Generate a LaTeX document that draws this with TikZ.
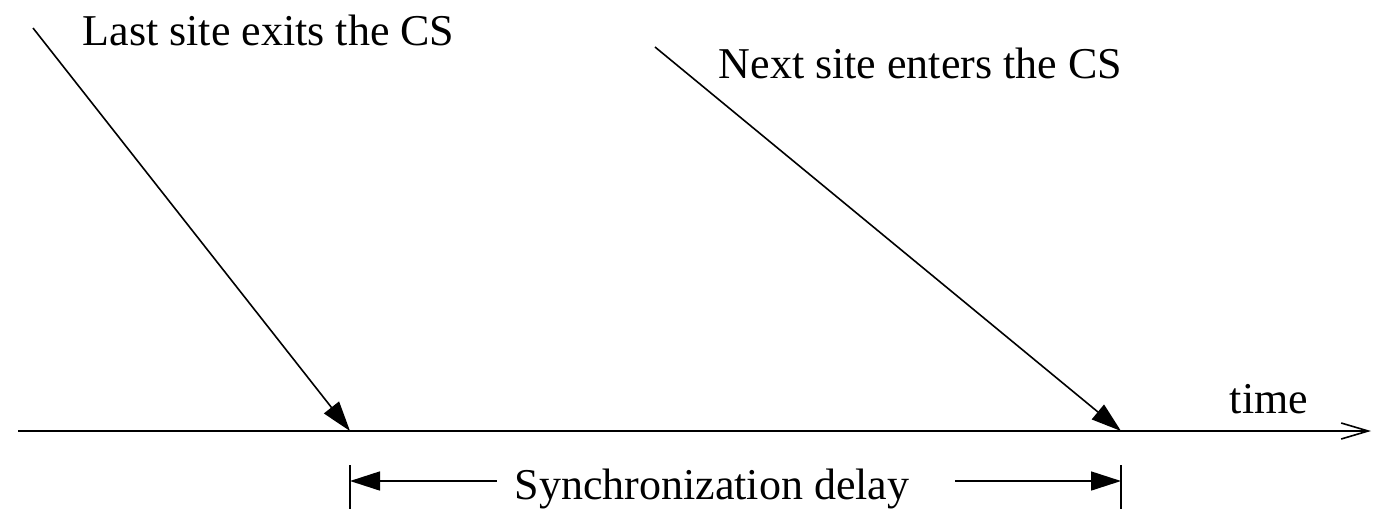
\documentclass[tikz,border=0pt]{standalone}
\usepackage{fontspec}
\setmainfont{Liberation Serif}
\usetikzlibrary{arrows.meta}
\begin{document}
\begin{tikzpicture}[x=1pt,y=-1pt,
  line width=1.6pt,
  fill tip/.style={-{Triangle[length=30pt,width=19pt]}},
  open tip/.style={-{Straight Barb[length=27pt,width=16pt,line width=1.6pt]}},
  lbl/.style={inner sep=0pt,anchor=base west,font=\fontsize{44}{48}\selectfont}]
\useasboundingbox (0,0) rectangle (1381,509);
% time axis
\coordinate (t0) at (18,431);
\coordinate (t1) at (1371,431);
\draw[open tip] (t0) -- (t1);
\node[lbl] (time) at (1229,413) {time};
% exit and entry events
\coordinate (exitStart) at (33,28);
\coordinate (exitPt) at (350,431);
\coordinate (enterStart) at (655,47);
\coordinate (enterPt) at (1121,431);
\draw[fill tip] (exitStart) -- (exitPt);
\draw[fill tip] (enterStart) -- (enterPt);
\node[lbl] (last) at (82,45) {Last site exits the CS};
\node[lbl] (next) at (718,78) {Next site enters the CS};
% synchronization delay span
\coordinate (tickA1) at (350,465);
\coordinate (tickA2) at (350,509);
\coordinate (tickB1) at (1121,465);
\coordinate (tickB2) at (1121,509);
\draw (tickA1) -- (tickA2);
\draw (tickB1) -- (tickB2);
\node[lbl,anchor=base] (sync) at (712,499) {Synchronization delay};
\coordinate (dimA) at (350,481);
\coordinate (dimB) at (1121,481);
\draw[fill tip] (sync.west |- dimA) ++(-17,0) -- (dimA);
\draw[fill tip] (sync.east |- dimB) ++(45,0) -- (dimB);
\end{tikzpicture}
\end{document}
